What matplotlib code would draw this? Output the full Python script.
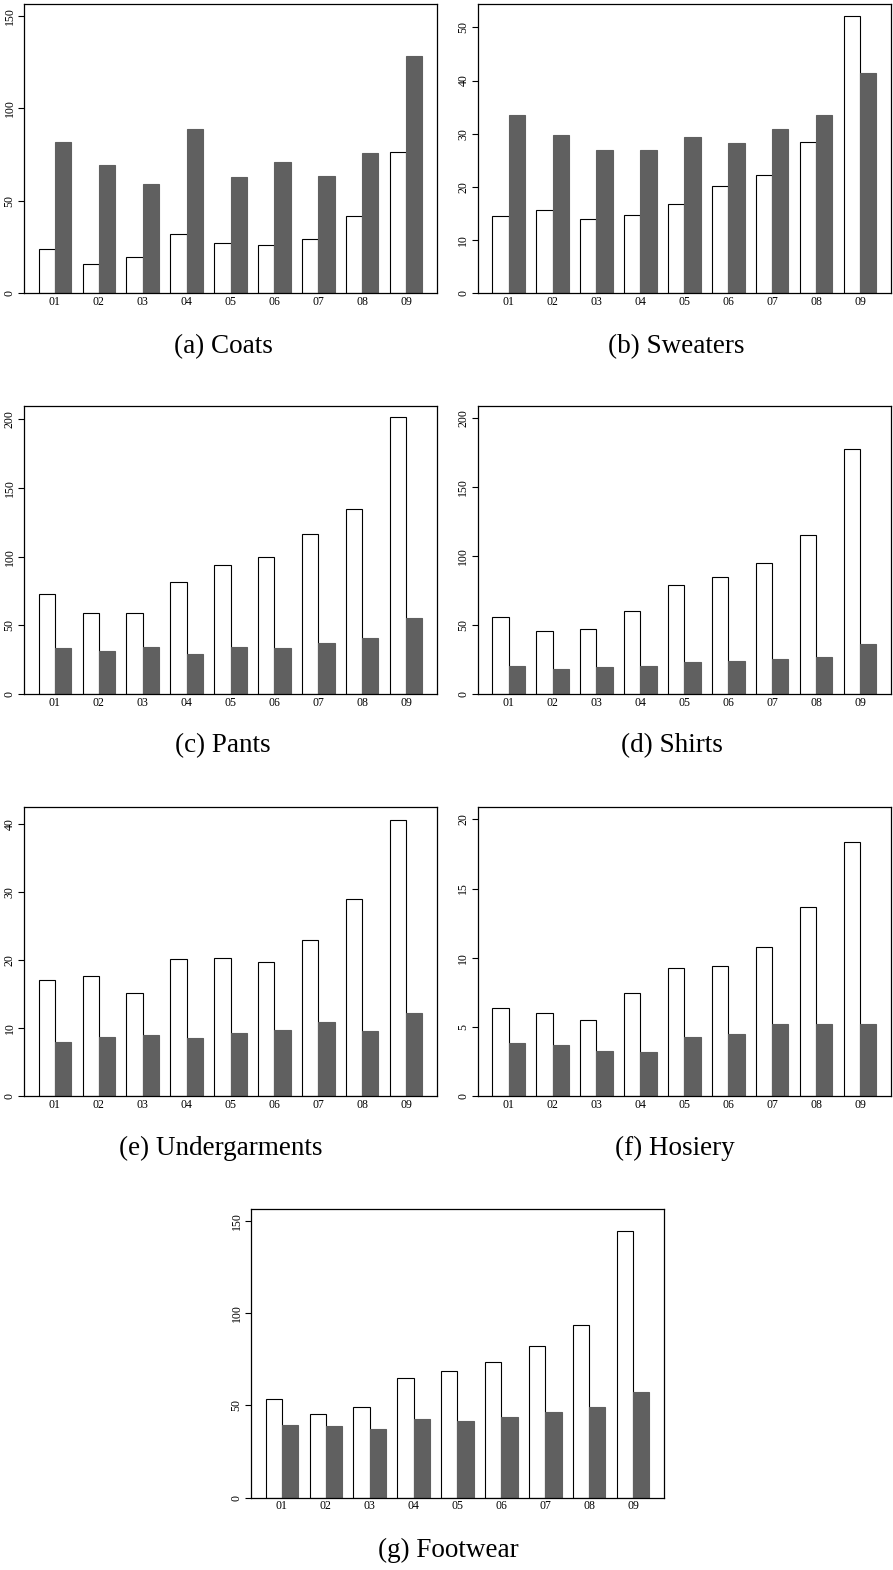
import matplotlib
matplotlib.use("Agg")
import matplotlib.pyplot as plt
import numpy as np

plt.rcParams["font.family"] = ["Liberation Serif", "DejaVu Serif"]

groups = ["01", "02", "03", "04", "05", "06", "07", "08", "09"]

coats_light = [24.0, 15.9, 19.5, 31.8, 27.3, 25.8, 29.2, 41.5, 76.5]
coats_dark = [81.9, 69.0, 59.0, 88.6, 62.6, 70.8, 63.5, 75.8, 128.0]

sweaters_light = [14.5, 15.7, 13.9, 14.6, 16.8, 20.1, 22.3, 28.5, 52.2]
sweaters_dark = [33.6, 29.8, 26.9, 27.0, 29.3, 28.2, 30.9, 33.6, 41.4]

pants_light = [72.6, 59.3, 59.1, 81.6, 93.7, 99.8, 116.7, 134.9, 201.2]
pants_dark = [33.9, 31.7, 34.1, 29.5, 34.4, 33.7, 37.5, 40.9, 55.2]

shirts_light = [56.1, 45.8, 47.0, 60.0, 78.8, 84.8, 94.7, 115.4, 177.6]
shirts_dark = [20.5, 18.3, 20.0, 20.7, 23.4, 24.1, 25.5, 27.0, 36.1]

under_light = [17.1, 17.6, 15.1, 20.1, 20.3, 19.7, 22.9, 28.9, 40.6]
under_dark = [8.0, 8.6, 8.9, 8.5, 9.2, 9.7, 10.9, 9.5, 12.2]

hosiery_light = [6.39, 5.98, 5.49, 7.45, 9.25, 9.40, 10.77, 13.69, 18.36]
hosiery_dark = [3.86, 3.69, 3.23, 3.20, 4.27, 4.51, 5.20, 5.23, 5.20]

foot_light = [53.5, 45.2, 49.0, 64.7, 68.5, 73.6, 82.4, 93.8, 144.4]
foot_dark = [39.4, 39.0, 37.1, 42.8, 41.6, 43.7, 46.4, 49.0, 57.3]

W, H = 893, 1570
DARK = "#606060"
PITCH = 2.7


def px_axes(fig, left, top, right, bottom):
    return fig.add_axes([left / W, 1 - bottom / H, (right - left) / W, (bottom - top) / H])


def draw_panel(ax, light, dark, yticks, ytop):
    x = np.arange(len(groups)) * PITCH
    ax.bar(x - 0.5, light, width=1.0, facecolor="white", edgecolor="black", linewidth=0.8)
    ax.bar(x + 0.5, dark, width=1.0, facecolor=DARK, edgecolor=DARK, linewidth=0.8)
    ax.set_xlim(x[0] - 1.9, x[-1] + 1.9)
    ax.set_ylim(0, ytop)
    ax.set_xticks(x)
    ax.set_xticklabels(groups, fontsize=8.5)
    ax.tick_params(axis="x", length=0, pad=2)
    ax.set_yticks(yticks)
    ax.set_yticklabels([str(t) for t in yticks], rotation=90, va="center", fontsize=8.5)
    ax.tick_params(axis="y", length=4, width=0.8, pad=2)
    for s in ax.spines.values():
        s.set_linewidth(0.9)


fig = plt.figure(figsize=(W / 100, H / 100), dpi=100)

panels = [
    (coats_light, coats_dark, [0, 50, 100, 150], 156.3, (24, 4, 437, 293), "(a) Coats", 223, 347),
    (sweaters_light, sweaters_dark, [0, 10, 20, 30, 40, 50], 54.4, (477.7, 4, 891, 293), "(b) Sweaters", 676, 347),
    (pants_light, pants_dark, [0, 50, 100, 150, 200], 209.7, (24, 405.7, 437, 694.3), "(c) Pants", 223, 746),
    (shirts_light, shirts_dark, [0, 50, 100, 150, 200], 208.7, (477.7, 405.7, 891, 694.3), "(d) Shirts", 672, 746),
    (under_light, under_dark, [0, 10, 20, 30, 40], 42.4, (24, 807.3, 437, 1096), "(e) Undergarments", 221, 1148),
    (hosiery_light, hosiery_dark, [0, 5, 10, 15, 20], 20.87, (477.7, 807.3, 891, 1096), "(f) Hosiery", 675, 1148),
    (foot_light, foot_dark, [0, 50, 100, 150], 156.5, (251, 1209, 664, 1497.7), "(g) Footwear", 448, 1550),
]

for light, dark, yticks, ytop, box, caption, cx, cy in panels:
    ax = px_axes(fig, *box)
    draw_panel(ax, light, dark, yticks, ytop)
    fig.text(cx / W, 1 - cy / H, caption, ha="center", va="center", fontsize=19.5)

fig.savefig("out.png", dpi=100)
